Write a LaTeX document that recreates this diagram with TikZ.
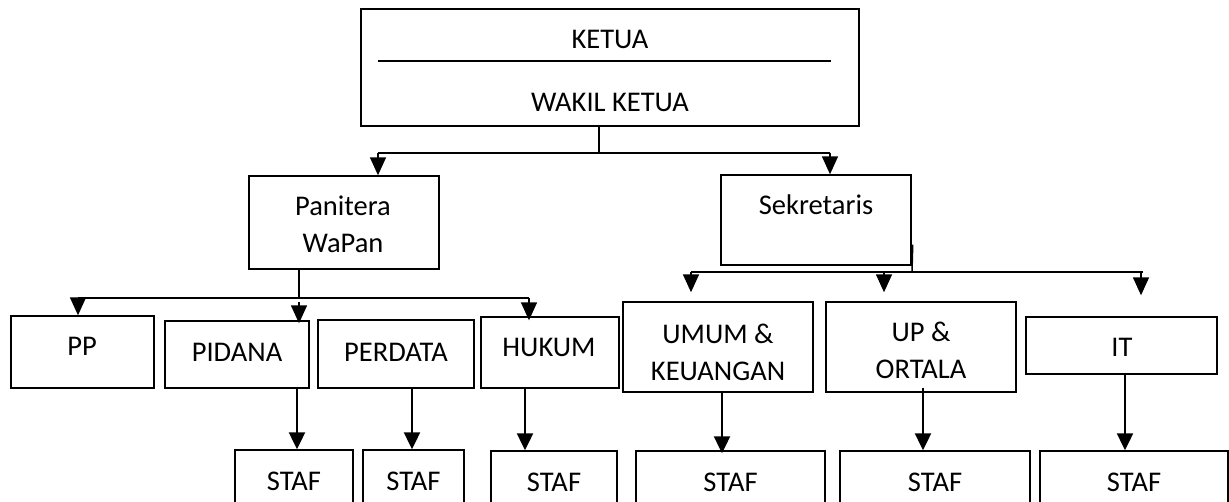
\documentclass[tikz,border=0pt]{standalone}
\usepackage{fontspec}
\setmainfont{Carlito}
\usetikzlibrary{arrows.meta,calc}
\begin{document}
\begin{tikzpicture}[x=1pt,y=-1pt,
  box/.style={draw, line width=1.4pt, inner sep=0pt, rectangle},
  txt/.style={inner sep=0pt, font=\fontsize{28.5}{37}\selectfont, align=center},
  capht/.style={text height=18.4pt, text depth=0pt},
  conn/.style={line width=1.5pt},
  arr/.style={line width=1.5pt, -{Triangle[width=16pt,length=18pt]}},
  arrb/.style={line width=2.2pt, -{Triangle[width=16pt,length=17pt]}}]
\fill[white] (0,0) rectangle (1229,502);
\clip (0,0) rectangle (1229,502);

% ---- boxes ----
\node[box, minimum width=498pt, minimum height=117pt] (top) at (610,67.5) {};
\node[box, minimum width=190pt, minimum height=93pt] (pan) at (344,222.5) {};
\node[box, minimum width=190pt, minimum height=90pt] (sek) at (816,220) {};
\node[box, minimum width=143pt, minimum height=72pt] (pp) at (82.5,352) {};
\node[box, minimum width=144pt, minimum height=67pt] (pid) at (237,354.5) {};
\node[box, minimum width=156pt, minimum height=68pt] (per) at (396,354) {};
\node[box, minimum width=138pt, minimum height=71pt] (huk) at (550,352.5) {};
\node[box, minimum width=190pt, minimum height=90pt] (umum) at (718,347) {};
\node[box, minimum width=190pt, minimum height=90pt] (up) at (921,347) {};
\node[box, minimum width=191pt, minimum height=57pt] (it) at (1121.5,345.5) {};

\node[box, txt, capht, minimum width=118pt, minimum height=62pt] (staf1) at (294,481) {STAF};
\node[box, txt, capht, minimum width=101pt, minimum height=62pt] (staf2) at (413.5,481) {STAF};
\node[box, txt, capht, minimum width=126pt, minimum height=62pt] (staf3) at (554,482) {STAF};
\node[box, txt, capht, minimum width=189pt, minimum height=62pt] (staf4) at (730.5,482) {STAF};
\node[box, txt, capht, minimum width=190pt, minimum height=62pt] (staf5) at (935,482) {STAF};
\node[box, txt, capht, minimum width=188pt, minimum height=62pt] (staf6) at (1134,482) {STAF};

% ---- texts ----
\node[txt, capht] (tketua) at (610,39) {KETUA};
\node[txt, capht] (twakil) at (610,102) {WAKIL KETUA};
\node[txt] (tpan) at (343,224) {Panitera\\WaPan};
\node[txt, capht] (tsek) at (816,205) {Sekretaris};
\node[txt, capht] (tpp) at (82,346) {PP};
\node[txt, capht] (tpid) at (237,352) {PIDANA};
\node[txt, capht] (tper) at (396,352) {PERDATA};
\node[txt, capht] (thuk) at (549,347) {HUKUM};
\node[txt] (tumum) at (718,352) {UMUM \&\\KEUANGAN};
\node[txt] (tup) at (921,350) {UP \&\\ORTALA};
\node[txt, capht] (tit) at (1122,347) {IT};

% divider in top box
\coordinate (dl) at (378,61);
\coordinate (dr) at (831,61);
\draw[line width=1.5pt] (dl) -- (dr);

% ---- top level connectors ----
\coordinate (j0) at (599,153);
\coordinate (ja) at (378,153);
\coordinate (jb) at (830,153);
\draw[conn] (top.south -| j0) -- (j0);
\draw[conn] (ja) -- (jb);
\draw[arr] (ja) -- (pan.north -| ja);
\draw[arr] (jb) -- (sek.north -| jb);

% ---- panitera connectors ----
\coordinate (p0) at (299,298);
\coordinate (pa) at (78,298);
\coordinate (pc) at (529,298);
\draw[conn] (pan.south -| p0) -- (p0);
\draw[conn] (pa) -- (pc);
\draw[arr] (pa) -- (pp.north -| pa);
\draw[arr] ($(p0)+(0,4)$) -- ($(pid.north -| p0)+(0,3)$);
\draw[arr] (pc) -- ($(huk.north -| pc)+(0,4)$);

% ---- sekretaris connectors ----
\coordinate (s0) at (912,272);
\coordinate (sa) at (691,272);
\coordinate (sb) at (884,272);
\coordinate (sc) at (1143,272);
\coordinate (sd) at (1141,272);
\draw[conn] ($(sek.south east)+(1,-21)$) -- (s0);
\draw[conn] (sa) -- (sc);
\draw[arr] (sa) -- ($(umum.north -| sa)+(0,-9)$);
\draw[arr] (sb) -- ($(up.north -| sb)+(0,-9)$);
\draw[arr] (sd) -- ($(it.north -| sd)+(0,-21)$);

% ---- staff arrows ----
\coordinate (x1) at (297,0);
\coordinate (x2) at (412,0);
\coordinate (x3) at (525,0);
\coordinate (x4) at (722,0);
\coordinate (x5) at (923,0);
\coordinate (x6) at (1125,0);
\draw[arrb] (pid.south -| x1) -- (staf1.north -| x1);
\draw[arrb] (per.south -| x2) -- (staf2.north -| x2);
\draw[arrb] (huk.south -| x3) -- (staf3.north -| x3);
\draw[arrb] (umum.south -| x4) -- ($(staf4.north -| x4)+(0,3)$);
\draw[arrb] ($(up.south -| x5)+(0,-5)$) -- (staf5.north -| x5);
\draw[arrb] (it.south -| x6) -- (staf6.north -| x6);
\end{tikzpicture}
\end{document}
